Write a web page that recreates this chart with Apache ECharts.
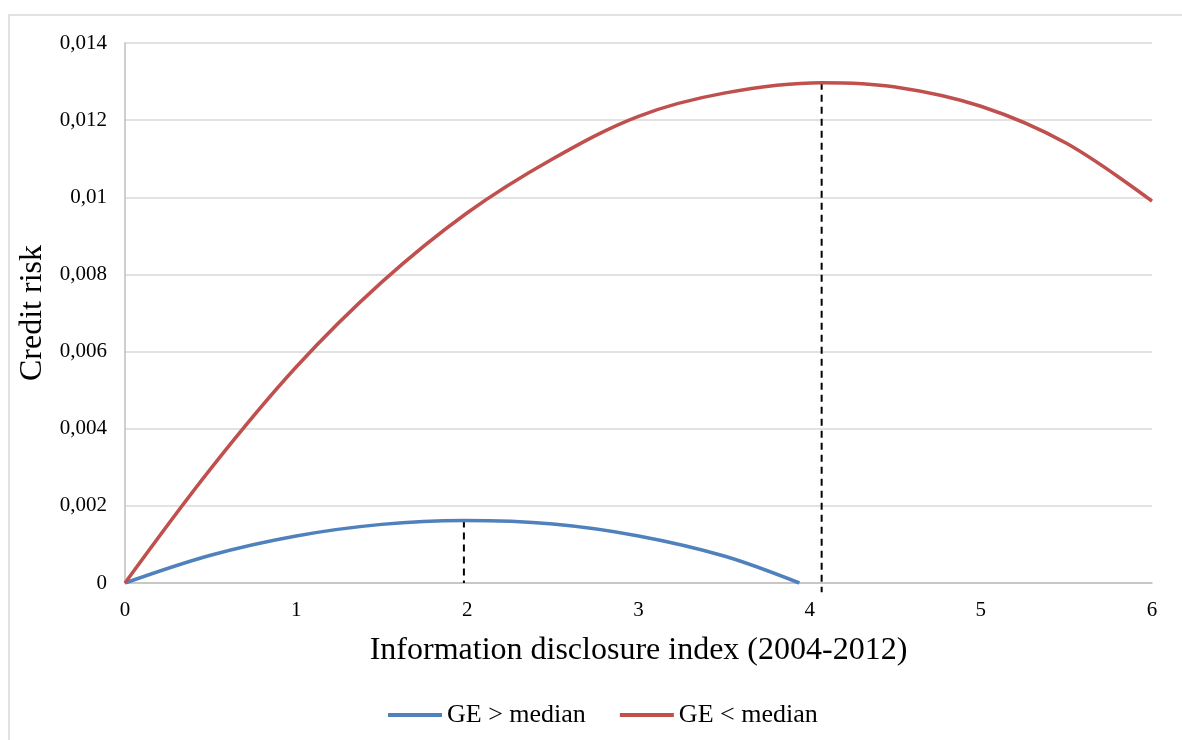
<!DOCTYPE html>
<html>
<head>
<meta charset="utf-8">
<script src="https://cdn.jsdelivr.net/npm/echarts@6/dist/echarts.min.js"></script>
<style>
  html, body { margin: 0; padding: 0; background: #fff; }
  #chart { width: 1182px; height: 740px; }
</style>
</head>
<body>
<div id="chart"></div>
<script>
// Data
const xBlue = [0, 0.5, 1, 1.5, 1.98, 2.5, 3, 3.5, 3.94];
const yBlue = [0, 0.00072, 0.00122, 0.00152, 0.00162, 0.00153, 0.00122, 0.00070, 0];
const xRed = [0, 0.5, 1, 1.5, 2, 2.5, 3, 3.5, 4.07, 4.5, 5, 5.5, 6];
const yRed = [0, 0.00296, 0.0056, 0.0078, 0.0096, 0.0110, 0.0121, 0.0127, 0.01297, 0.01286, 0.01236, 0.0114, 0.0099];
const peakX = [1.98, 4.07];
const peakY = [0.00162, 0.01297];
const peakBottom = [0, -0.00024];
const seriesNames = ['GE > median', 'GE < median'];
const xTicks = [0, 1, 2, 3, 4, 5, 6];
const yTicks = [0, 0.002, 0.004, 0.006, 0.008, 0.01, 0.012, 0.014];

const font = 'Liberation Serif, Times New Roman, serif';
const pairs = (xs, ys) => xs.map((x, i) => [x, ys[i]]);

const chart = echarts.init(document.getElementById('chart'), null, { renderer: 'canvas' });
chart.setOption({
  animation: false,
  backgroundColor: '#ffffff',
  graphic: [{
    type: 'rect',
    shape: { x: 9, y: 15, width: 1250, height: 800 },
    style: { fill: 'none', stroke: '#d9d9d9', lineWidth: 1.5 },
    silent: true, z: -1
  }],
  grid: { left: 125, right: 30, top: 43, bottom: 157 },
  legend: {
    left: 383, top: 697,
    icon: 'rect',
    itemWidth: 54, itemHeight: 4, itemGap: 34,
    textStyle: { fontFamily: font, fontSize: 26, color: '#000', padding: [0, 0, 0, 0] },
    data: seriesNames
  },
  xAxis: {
    type: 'value', min: 0, max: 6, interval: 1,
    name: 'Information disclosure index (2004-2012)',
    nameLocation: 'middle', nameGap: 52,
    nameTextStyle: { fontFamily: font, fontSize: 32, color: '#000' },
    axisLine: { show: true, lineStyle: { color: '#bfbfbf', width: 1.5 } },
    axisTick: { show: false },
    splitLine: { show: false },
    axisLabel: { fontFamily: font, fontSize: 21, color: '#000', margin: 17,
      formatter: v => xTicks.includes(v) ? String(v) : '' }
  },
  yAxis: {
    type: 'value', min: 0, max: 0.014, interval: 0.002,
    name: 'Credit risk',
    nameLocation: 'middle', nameGap: 70, nameRotate: 90,
    nameTextStyle: { fontFamily: font, fontSize: 32, color: '#000' },
    axisLine: { show: true, lineStyle: { color: '#bfbfbf', width: 1.5 } },
    axisTick: { show: false },
    splitLine: { show: true, lineStyle: { color: '#d9d9d9', width: 1.5 } },
    axisLabel: { fontFamily: font, fontSize: 21, color: '#000', margin: 18,
      formatter: v => {
        const t = yTicks.find(k => Math.abs(k - v) < 1e-9);
        return t === undefined ? '' : String(+t.toFixed(3)).replace('.', ',');
      } }
  },
  series: [
    {
      name: seriesNames[0], type: 'line', data: pairs(xBlue, yBlue),
      smooth: 0.35, showSymbol: false, symbol: 'none',
      lineStyle: { color: '#4f81bd', width: 3.5 }, itemStyle: { color: '#4f81bd' }, z: 3
    },
    {
      name: seriesNames[1], type: 'line', data: pairs(xRed, yRed),
      smooth: 0.35, showSymbol: false, symbol: 'none',
      lineStyle: { color: '#c0504d', width: 3.5 }, itemStyle: { color: '#c0504d' }, z: 3
    },
    {
      type: 'line', data: [[peakX[0], peakY[0]], [peakX[0], peakBottom[0]]],
      showSymbol: false, symbol: 'none', clip: false, silent: true,
      lineStyle: { color: '#000', width: 2, type: [7, 5] }, z: 2
    },
    {
      type: 'line', data: [[peakX[1], peakY[1]], [peakX[1], peakBottom[1]]],
      showSymbol: false, symbol: 'none', clip: false, silent: true,
      lineStyle: { color: '#000', width: 2, type: [7, 5] }, z: 2
    }
  ]
});
</script>
</body>
</html>
